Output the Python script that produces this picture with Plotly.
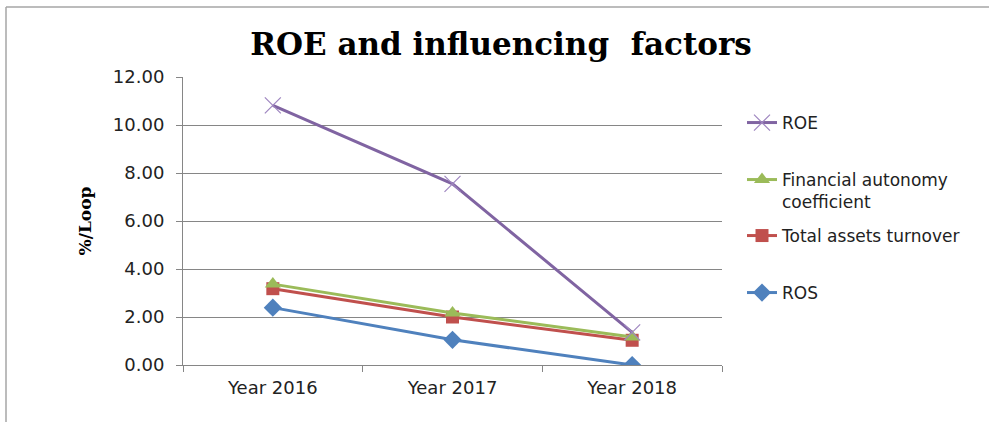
import plotly.graph_objects as go

years = ["Year 2016", "Year 2017", "Year 2018"]
roe = [10.82, 7.55, 1.36]
fin_autonomy = [3.37, 2.17, 1.17]
assets_turnover = [3.18, 2.00, 1.03]
ros = [2.39, 1.05, 0.00]

series_names = ["ROE", "Financial autonomy<br>coefficient", "Total assets turnover", "ROS"]
tick_vals = [0, 2, 4, 6, 8, 10, 12]
tick_text = ["0.00", "2.00", "4.00", "6.00", "8.00", "10.00", "12.00"]

W, H = 989, 422
L, R, T, B = 183, 267, 77, 57
pw, ph = W - L - R, H - T - B

def px_x(p):
    return (p - L) / pw

def px_y(p):
    return (H - B - p) / ph

fig = go.Figure()

fig.add_trace(go.Scatter(
    x=years, y=ros, name=series_names[3], mode="lines+markers",
    line=dict(color="#4F81BD", width=3),
    marker=dict(symbol="diamond", size=14, color="#4F81BD"),
    legend="legend4"))
fig.add_trace(go.Scatter(
    x=years, y=assets_turnover, name=series_names[2], mode="lines+markers",
    line=dict(color="#C0504D", width=3),
    marker=dict(symbol="square", size=13, color="#C0504D"),
    legend="legend3"))
fig.add_trace(go.Scatter(
    x=years, y=fin_autonomy, name=series_names[1], mode="lines+markers",
    line=dict(color="#9BBB59", width=3),
    marker=dict(symbol="triangle-up", size=14, color="#9BBB59"),
    legend="legend2"))
fig.add_trace(go.Scatter(
    x=years, y=roe, name=series_names[0], mode="lines+markers",
    line=dict(color="#8064A2", width=3),
    marker=dict(symbol="x-thin", size=16, line=dict(color="#9F86C0", width=1.2)),
    legend="legend"))

leg_font = dict(family="DejaVu Sans", size=17, color="#222222")
def leg(ypx):
    return dict(x=742 / W, y=1 - ypx / H, xref="container", yref="container",
                xanchor="left", yanchor="top", valign="top",
                bgcolor="rgba(0,0,0,0)", font=leg_font, itemwidth=30,
                borderwidth=0)

fig.update_layout(
    width=W, height=H,
    margin=dict(l=L, r=R, t=T, b=B),
    paper_bgcolor="white", plot_bgcolor="white",
    title=dict(text="<b>ROE and influencing  factors</b>",
               font=dict(family="DejaVu Serif", size=31, color="#000000"),
               x=501 / W, xref="container", xanchor="center",
               y=1 - 44 / H, yref="container", yanchor="middle"),
    showlegend=True,
    legend=leg(105), legend2=leg(162), legend3=leg(218), legend4=leg(275),
    xaxis=dict(
        type="category", range=[-0.5, 2.5], tickson="boundaries",
        ticks="outside", ticklen=6,
        tickcolor="#868686", showline=True, linecolor="#868686", linewidth=1,
        showgrid=False, tickfont=dict(family="DejaVu Sans", size=18, color="#222222"),
        ticklabelstandoff=6, fixedrange=True),
    yaxis=dict(
        range=[0, 12], tickvals=tick_vals, ticktext=tick_text,
        ticks="outside", ticklen=6, tickcolor="#868686",
        showline=True, linecolor="#868686", linewidth=1,
        showgrid=True, gridcolor="#868686", gridwidth=1, zeroline=False,
        tickfont=dict(family="DejaVu Sans", size=18, color="#222222"),
        ticklabelstandoff=8,
        title=dict(text="<b>%/Loop</b>", standoff=16,
                   font=dict(family="DejaVu Serif", size=17, color="#000000")),
        fixedrange=True),
    shapes=[
        dict(type="line", xref="paper", yref="paper",
             x0=px_x(6), x1=px_x(6), y0=px_y(7), y1=px_y(H + 5),
             line=dict(color="#A6A6A6", width=1.5)),
        dict(type="line", xref="paper", yref="paper",
             x0=px_x(6), x1=px_x(W + 5), y0=px_y(7), y1=px_y(7),
             line=dict(color="#A6A6A6", width=1.5)),
    ],
)

fig.write_html("out.html",
               config={"displayModeBar": False},
               post_script="document.body.style.margin='0px';document.body.style.overflow='hidden';")
